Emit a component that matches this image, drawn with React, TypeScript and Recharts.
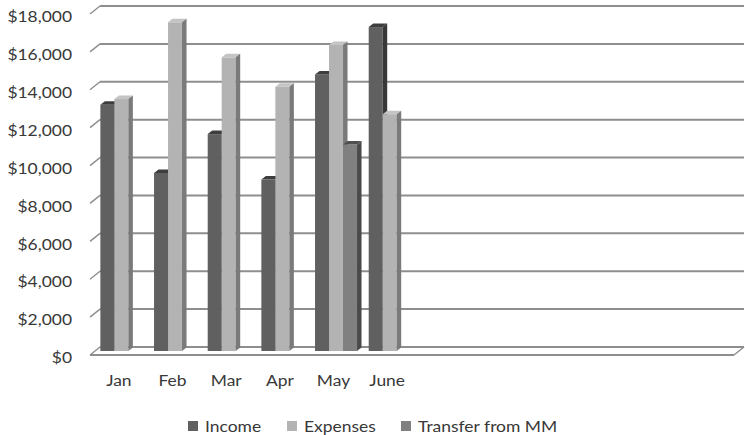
import React from 'react';
import { BarChart, Bar, XAxis, YAxis, CartesianGrid, Legend } from 'recharts';

const months = ['Jan', 'Feb', 'Mar', 'Apr', 'May', 'June', '', '', '', '', '', ''];
const income = [13000, 9400, 11450, 9050, 14600, 17100, null, null, null, null, null, null];
const expenses = [13300, 17350, 15500, 13950, 16150, 12500, null, null, null, null, null, null];
const transfer = [null, null, null, null, 10900, null, null, null, null, null, null, null];
const yTicks = [0, 2000, 4000, 6000, 8000, 10000, 12000, 14000, 16000, 18000];
const seriesNames = ['Income', 'Expenses', 'Transfer from MM'];

const data = months.map((m, i) => ({
  month: m,
  income: income[i],
  expenses: expenses[i],
  transfer: transfer[i],
}));

const FONT = 'Lato, "Open Sans", sans-serif';
const TEXT = '#383838';
const SX = 1.09;
const FS = 16;

const make3DBar = (front: string, top: string, side: string) => (props: any) => {
  const { x, y, width, height } = props;
  if (height == null || !(height > 0) || !(width > 0)) return null;
  const d = 4.5;
  const e = 3.5;
  return (
    <g>
      <rect x={x} y={y} width={width} height={height} fill={front} />
      <polygon
        points={`${x},${y} ${x + d},${y - e} ${x + width + d},${y - e} ${x + width},${y}`}
        fill={top}
      />
      <polygon
        points={`${x + width},${y} ${x + width + d},${y - e} ${x + width + d},${y + height - e} ${x + width},${y + height}`}
        fill={side}
      />
    </g>
  );
};

const fmt = (v: number) => '$' + v.toLocaleString('en-US');

const YTick = (props: any) => {
  const { x, y, payload } = props;
  return (
    <g transform={`translate(${x},${y + 6})`}>
      <text
        transform={`scale(${SX},1)`}
        textAnchor="end"
        dominantBaseline="central"
        fontFamily={FONT}
        fontSize={FS}
        fill={TEXT}
      >
        {fmt(payload.value)}
      </text>
    </g>
  );
};

const XTick = (props: any) => {
  const { x, y, payload } = props;
  if (!payload.value) return null;
  return (
    <g transform={`translate(${x - 3},${y + 35})`}>
      <text transform={`scale(${SX},1)`} textAnchor="middle" fontFamily={FONT} fontSize={FS} fill={TEXT}>
        {payload.value}
      </text>
    </g>
  );
};

const GRID = '#8e8e8e';
const gridLine = (props: any) => {
  const { x1, x2, y1, key } = props;
  const bottom = props.y != null && props.height != null ? props.y + props.height : 351;
  const isFloor = Math.abs(y1 - bottom) < 1;
  const dx = 5;
  const dy = 4;
  return (
    <g key={key}>
      <line x1={x1 + dx} y1={y1 - dy} x2={x2 + dx} y2={y1 - dy} stroke={GRID} strokeWidth={2} />
      <line x1={x1 - dx} y1={y1 + dy} x2={x1 + dx} y2={y1 - dy} stroke={GRID} strokeWidth={1.5} />
      {isFloor && (
        <>
          <line x1={x1 - dx} y1={y1 + dy} x2={x2 - dx} y2={y1 + dy} stroke={GRID} strokeWidth={2} />
          <line x1={x2 - dx} y1={y1 + dy} x2={x2 + dx} y2={y1 - dy} stroke={GRID} strokeWidth={1.5} />
        </>
      )}
    </g>
  );
};

const LegendContent = (props: any) => {
  const payload = [...(props.payload || [])].sort(
    (a: any, b: any) => seriesNames.indexOf(a.value) - seriesNames.indexOf(b.value)
  );
  return (
    <div
      style={{
        display: 'flex',
        alignItems: 'center',
        paddingLeft: 188,
        height: 18,
        fontFamily: FONT,
        fontSize: FS,
        color: TEXT,
      }}
    >
      {payload.map((p: any, i: number) => (
        <div key={i} style={{ display: 'flex', alignItems: 'center', marginRight: 31 }}>
          <span style={{ display: 'inline-block', width: 10, height: 10, background: p.color, marginRight: 7 }} />
          <span
            style={{
              display: 'inline-block',
              transform: `scaleX(${SX})`,
              transformOrigin: 'left center',
              whiteSpace: 'nowrap',
              lineHeight: '18px',
            }}
          >
            {p.value}
          </span>
        </div>
      ))}
    </div>
  );
};

export default function App() {
  return (
    <div style={{ position: 'absolute', left: 0, top: 0 }}>
      <BarChart
        width={745}
        height={435}
        data={data}
        margin={{ top: 10, right: 6, left: 0, bottom: 54 }}
        barCategoryGap="10%"
        barGap={0}
      >
        <CartesianGrid vertical={false} horizontal={gridLine} />
        <XAxis
          dataKey="month"
          axisLine={false}
          tickLine={false}
          tickSize={0}
          tickMargin={0}
          height={30}
          interval={0}
          tick={<XTick />}
        />
        <YAxis
          domain={[0, 18000]}
          ticks={yTicks}
          axisLine={false}
          tickLine={false}
          tickSize={0}
          tickMargin={23}
          width={95}
          tick={<YTick />}
        />
        <Legend
          verticalAlign="middle"
          align="center"
          layout="horizontal"
          wrapperStyle={{ top: 417, left: 0, width: 745 }}
          content={<LegendContent />}
        />
        <Bar
          dataKey="income"
          name={seriesNames[0]}
          fill="#606060"
          shape={make3DBar('#606060', '#3e3e3e', '#383838')}
          isAnimationActive={false}
        />
        <Bar
          dataKey="expenses"
          name={seriesNames[1]}
          fill="#b3b3b3"
          shape={make3DBar('#b3b3b3', '#c4c4c4', '#7a7a7a')}
          isAnimationActive={false}
        />
        <Bar
          dataKey="transfer"
          name={seriesNames[2]}
          fill="#808080"
          shape={make3DBar('#808080', '#505050', '#4a4a4a')}
          isAnimationActive={false}
        />
      </BarChart>
    </div>
  );
}
